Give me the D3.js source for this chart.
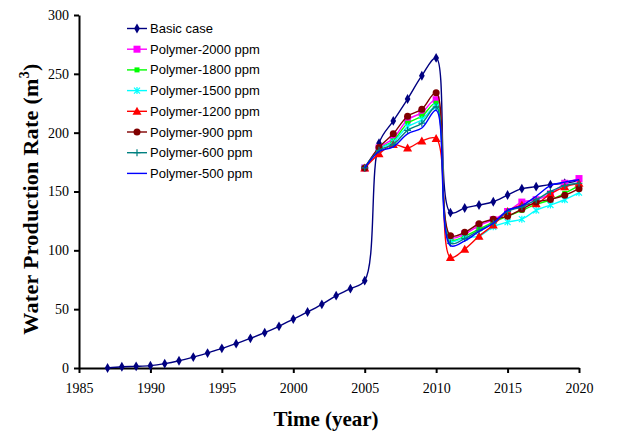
<!DOCTYPE html>
<html>
<head>
<meta charset="utf-8">
<script src="https://cdn.jsdelivr.net/npm/d3@7"></script>
<style>
  body { margin: 0; background: #fff; }
  svg { display: block; }
</style>
</head>
<body>
<svg id="chart" width="619" height="445"></svg>
<script>
// years
const yearsBasic = d3.range(1987, 2021);
const yearsPoly = d3.range(2005, 2021);

// water production rate, m3
const basicCase = [0, 1.1, 1.4, 2, 3.7, 6.2, 9.3, 12.7, 16.7, 20.7, 25.2, 30, 35.4, 41.6, 47.6,
  54.1, 61.5, 67.4, 74.2, 191, 210, 228.6, 248.4, 263.5, 132, 136, 138.5, 141.3, 147, 152.4,
  154.1, 155.8, 157, 159];
const poly2000 = [170, 187, 195, 211, 217, 228, 111, 114, 121, 126, 133, 141, 143, 148, 157, 161];
const poly1800 = [170, 186, 193, 208, 214, 225, 109, 112, 118, 124, 129, 134, 139, 143, 148.5, 155];
const poly1500 = [170, 186, 192, 205, 211, 222, 108, 111, 112, 120, 124, 126.5, 134, 138.5, 143, 149];
const poly1200 = [170, 182, 190, 187, 193, 195, 94, 101, 112, 121.5, 133, 138.5, 139.5, 148, 154, 157];
const poly900 = [170, 187.5, 199, 214, 220, 234, 112.5, 115.3, 122.6, 126.4, 129, 135, 141, 143.3, 146.8, 152.4];
const poly600 = [170, 185, 190, 202, 208, 222, 106, 110, 117, 123, 133, 137, 143, 150, 155, 157];
const poly500 = [170, 184, 188, 199, 204, 219, 104, 108, 116, 123, 134, 138, 146, 155, 158, 160];

const xTicks = [1985, 1990, 1995, 2000, 2005, 2010, 2015, 2020];
const yTicks = [0, 50, 100, 150, 200, 250, 300];

const series = [
  {name: "Basic case", years: yearsBasic, values: basicCase, color: "#000080", marker: "diamond"},
  {name: "Polymer-2000 ppm", years: yearsPoly, values: poly2000, color: "#FF00FF", marker: "square"},
  {name: "Polymer-1800 ppm", years: yearsPoly, values: poly1800, color: "#00FF00", marker: "smallsquare"},
  {name: "Polymer-1500 ppm", years: yearsPoly, values: poly1500, color: "#00FFFF", marker: "star"},
  {name: "Polymer-1200 ppm", years: yearsPoly, values: poly1200, color: "#FF0000", marker: "triangle"},
  {name: "Polymer-900 ppm", years: yearsPoly, values: poly900, color: "#800000", marker: "circle"},
  {name: "Polymer-600 ppm", years: yearsPoly, values: poly600, color: "#008080", marker: "plus"},
  {name: "Polymer-500 ppm", years: yearsPoly, values: poly500, color: "#0000FF", marker: "none"}
];

const svg = d3.select("#chart");
svg.append("rect").attr("width", 619).attr("height", 445).attr("fill", "#fff");

const x = d3.scaleLinear().domain([1985, 2020]).range([79, 579]);
const y = d3.scaleLinear().domain([0, 300]).range([368, 15]);

const serif = "'Liberation Serif', 'Times New Roman', serif";
const sans = "'Liberation Sans', Arial, sans-serif";

// axes
const xAxis = svg.append("g")
    .attr("transform", `translate(0,${y(0)})`)
    .call(d3.axisBottom(x).tickValues(xTicks).tickFormat(d3.format("d")).tickSize(5).tickSizeOuter(0));
const yAxis = svg.append("g")
    .attr("transform", `translate(${x(1985)},0)`)
    .call(d3.axisLeft(y).tickValues(yTicks).tickSize(5).tickSizeOuter(0));

[xAxis, yAxis].forEach(g => {
  g.select(".domain").attr("stroke", "#000").attr("stroke-width", 2);
  g.selectAll(".tick line").attr("stroke", "#000").attr("stroke-width", 2);
  g.selectAll("text").attr("font-family", serif).attr("font-size", 14).attr("fill", "#000");
});
xAxis.selectAll("text").attr("dy", null).attr("y", 25);
yAxis.selectAll("text").attr("x", -10);

// titles
svg.append("text")
    .attr("x", 326).attr("y", 426)
    .attr("text-anchor", "middle")
    .attr("font-family", serif).attr("font-weight", "bold").attr("font-size", 21)
    .text("Time (year)");

const yTitle = svg.append("text")
    .attr("transform", "translate(38,199) rotate(-90)")
    .attr("text-anchor", "middle")
    .attr("font-family", serif).attr("font-weight", "bold").attr("font-size", 22)
    .attr("letter-spacing", 0.3);
yTitle.append("tspan").text("Water Production Rate (m");
yTitle.append("tspan").attr("font-size", 14).attr("dy", -9).text("3");
yTitle.append("tspan").attr("dy", 9).text(")");

// markers
function drawMarker(g, type, color) {
  if (type === "diamond") {
    g.append("path").attr("d", d3.symbol(d3.symbolDiamond, 28)()).attr("fill", color);
  } else if (type === "square") {
    g.append("rect").attr("x", -3.5).attr("y", -3.5).attr("width", 7).attr("height", 7).attr("fill", color);
  } else if (type === "smallsquare") {
    g.append("rect").attr("x", -2.5).attr("y", -2.5).attr("width", 5).attr("height", 5).attr("fill", color);
  } else if (type === "triangle") {
    g.append("path").attr("d", "M0,-4.5L4.5,3.5L-4.5,3.5Z").attr("fill", color);
  } else if (type === "circle") {
    g.append("circle").attr("r", 3.5).attr("fill", color);
  } else if (type === "plus") {
    g.append("path").attr("d", "M-3.5,0H3.5M0,-3.5V3.5").attr("stroke", color).attr("stroke-width", 1.2);
  } else if (type === "star") {
    g.append("path").attr("d", "M-3,-3L3,3M-3,3L3,-3M0,-3.5V3.5").attr("stroke", color).attr("stroke-width", 1.2);
  }
}

const line = d3.line()
    .x(d => x(d[0]))
    .y(d => y(d[1]))
    .curve(d3.curveCatmullRom.alpha(0.5));

series.forEach(s => {
  const pts = s.years.map((yr, i) => [yr, s.values[i]]);
  const g = svg.append("g");
  g.append("path")
      .attr("d", line(pts))
      .attr("fill", "none")
      .attr("stroke", s.color)
      .attr("stroke-width", 1.4);
  pts.forEach(p => {
    const m = g.append("g").attr("transform", `translate(${x(p[0])},${y(p[1])})`);
    drawMarker(m, s.marker, s.color);
  });
});

// legend
const legend = svg.append("g");
series.forEach((s, i) => {
  const ly = 28.5 + i * 20.7;
  const row = legend.append("g").attr("transform", `translate(0,${ly})`);
  row.append("line").attr("x1", 127).attr("x2", 147).attr("y1", 0).attr("y2", 0)
      .attr("stroke", s.color).attr("stroke-width", 1.4);
  const m = row.append("g").attr("transform", "translate(137,0)");
  drawMarker(m, s.marker, s.color);
  row.append("text")
      .attr("x", 150).attr("y", 4.5)
      .attr("font-family", sans).attr("font-size", 13).attr("fill", "#000")
      .text(s.name);
});
</script>
</body>
</html>
